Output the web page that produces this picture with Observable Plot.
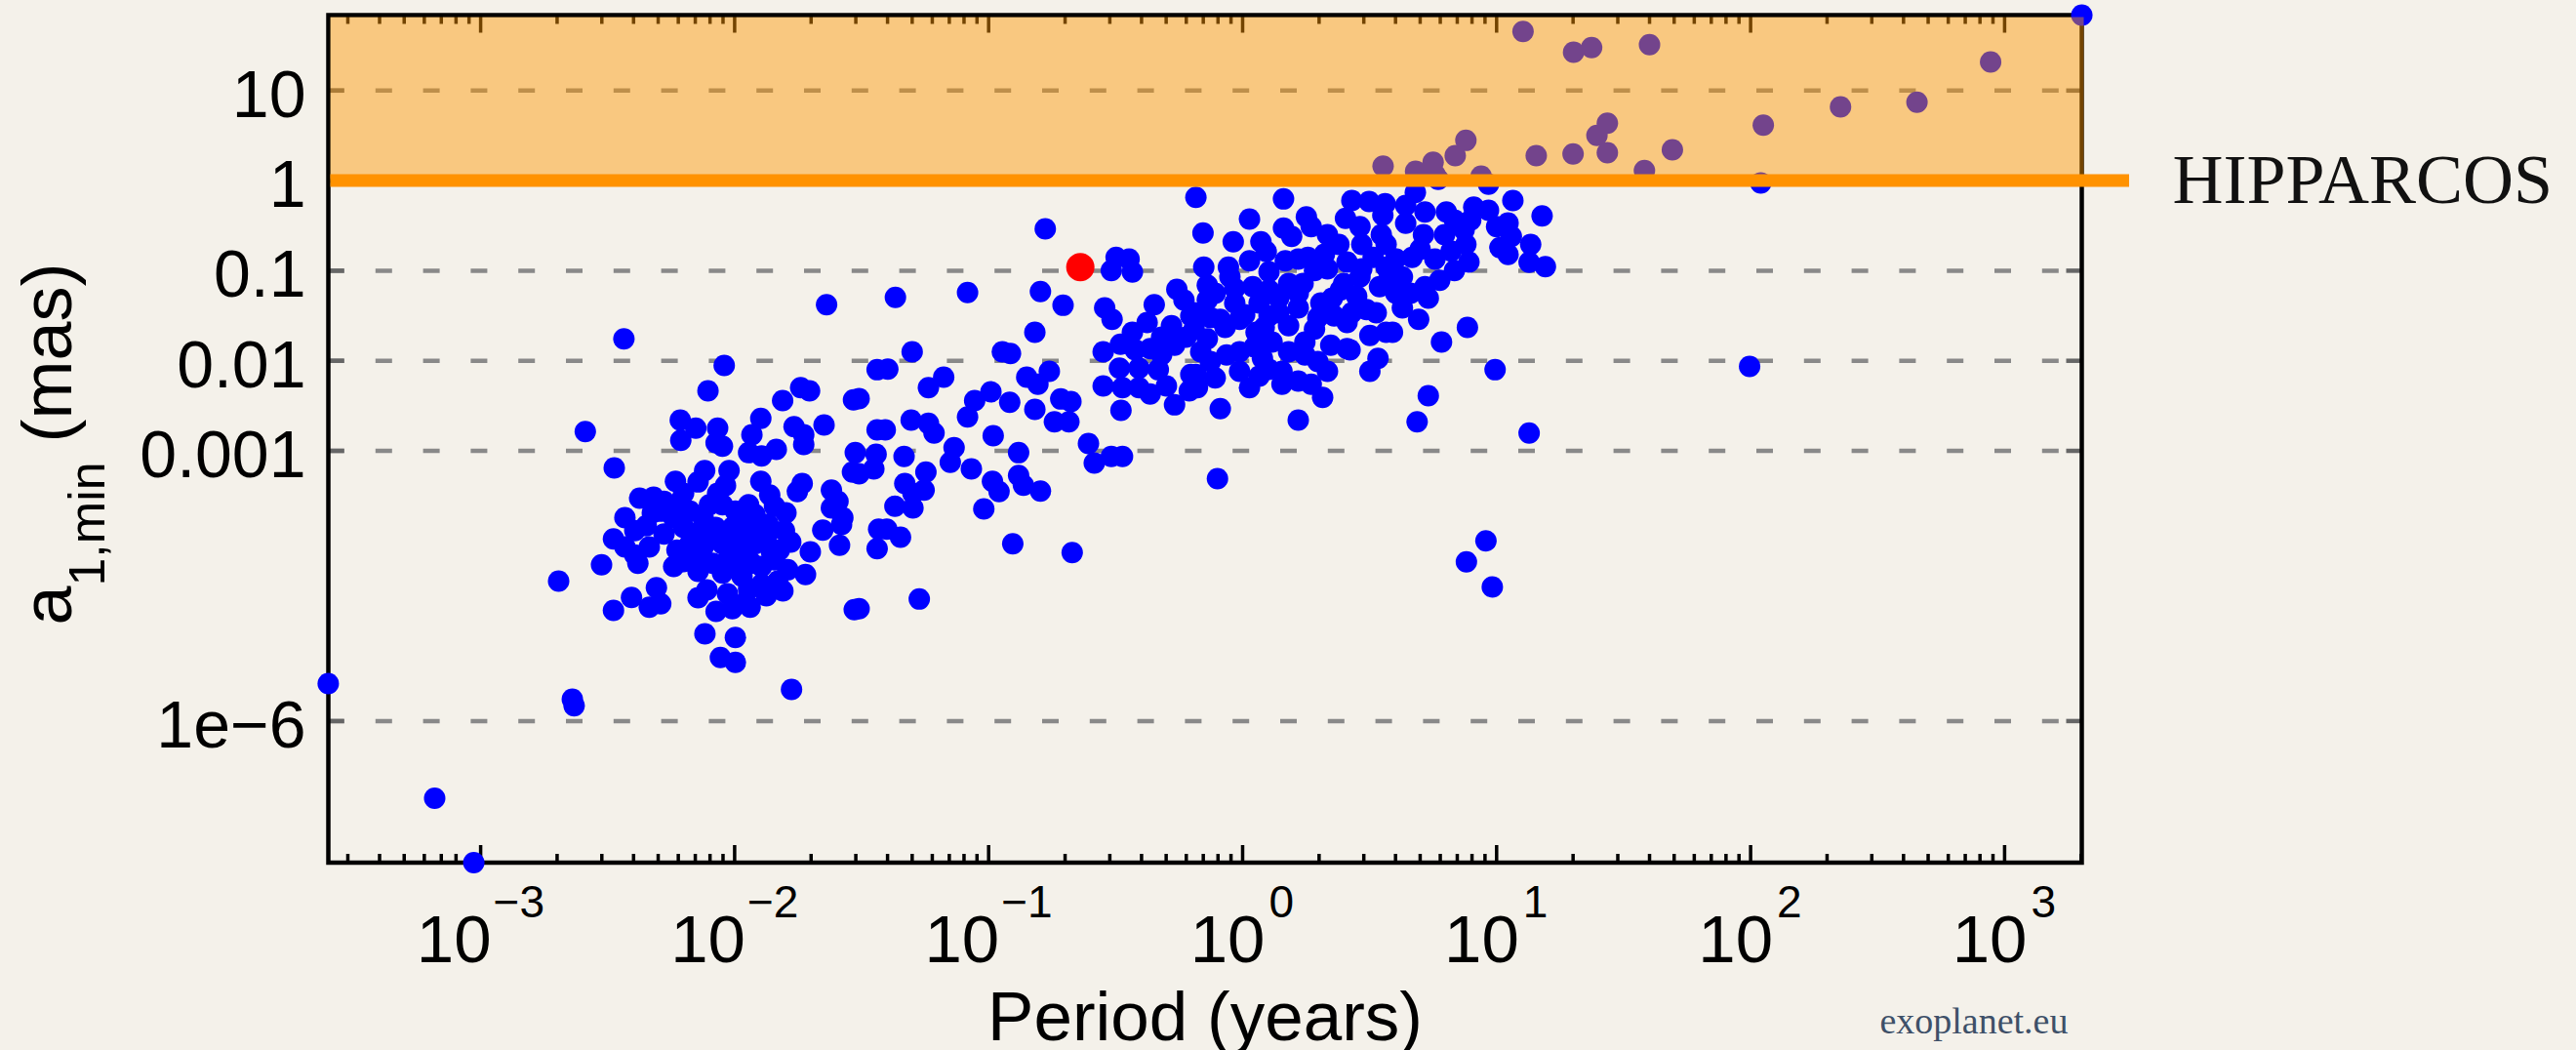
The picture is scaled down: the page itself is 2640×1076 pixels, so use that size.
<!DOCTYPE html>
<html>
<head>
<meta charset="utf-8">
<script src="https://cdn.jsdelivr.net/npm/d3@7"></script>
<script src="https://cdn.jsdelivr.net/npm/@observablehq/plot@0.6"></script>
<style>
  html, body { margin: 0; padding: 0; background: #f4f1ea; }
  #chart { position: relative; width: 2640px; height: 1076px; background: #f4f1ea; }
</style>
</head>
<body>
<div id="chart"></div>
<script>
// Axis extents: orbital period (years) and minimum astrometric signature a1,min (mas)
const periodExtent = [2.514e-4, 2013];
const aExtent = [2.68e-8, 68.8];

// HIPPARCOS astrometric precision threshold (mas)
const hipparcosLimit = 1;
const hipparcosName = "HIPPARCOS";

// Y ticks and their labels
const yTicks = [10, 1, 0.1, 0.01, 0.001, 1e-6];
const yTickLabels = ["10", "1", "0.1", "0.01", "0.001", "1e\u22126"];

// X ticks are powers of ten
const xTickExponents = [-3, -2, -1, 0, 1, 2, 3];

// Known planets: [log10 period (yr), log10 a1,min (mas)]
const planets = [
  // long-period / large-signature systems
  [1.104,1.657],[1.303,1.426],[1.374,1.477],[1.602,1.509],[0.553,0.161],[0.681,0.104],[0.750,0.205],[0.757,0.068],
  [0.837,0.277],[0.879,0.447],[0.939,0.050],[1.156,0.277],[1.301,0.296],[1.395,0.502],[1.436,0.638],[1.436,0.310],
  [1.582,0.112],[1.692,0.342],[2.050,0.616],[2.354,0.819],[2.655,0.870],[2.945,1.317],[3.304,1.8375],[2.040,-0.026],
  [1.996,-2.063],[0.770,0.014],[0.968,-0.040],
  // isolated systems
  [-3.600,-5.584],[-3.181,-6.857],[-3.027,-7.572],[-2.639,-5.757],[-2.632,-5.830],[-1.776,-5.649],[0.958,-3.999],
  [0.881,-4.233],[0.983,-4.511],
  // short-period group
  [-2.436,-1.756],[-2.041,-2.052],[-2.105,-2.334],[-1.740,-2.298],[-1.705,-2.334],[-1.811,-2.442],[-1.532,-2.434],
  [-2.588,-2.785],[-2.214,-2.659],[-2.153,-2.749],[-2.212,-2.883],[-2.067,-2.749],[-2.073,-2.911],[-2.048,-2.948],
  [-1.897,-2.640],[-1.932,-2.821],[-1.945,-3.020],[-1.894,-3.056],[-1.836,-2.984],[-1.766,-2.731],[-1.728,-2.821],
  [-1.728,-2.930],[-1.648,-2.713],[-1.525,-3.020],[-1.439,-2.767],[-1.536,-3.236],[-1.452,-3.200],[-2.474,-3.190],
  [-2.233,-3.338],[-2.118,-3.219],[-2.144,-3.345],[-2.022,-3.219],[-2.036,-3.385],[-1.897,-3.338],[-1.862,-3.490],
  [-1.843,-3.615],[-1.734,-3.363],[-1.753,-3.453],[-1.619,-3.436],[-1.593,-3.561],[-1.619,-3.634],[-1.574,-3.742],
  [-1.579,-3.818],[-1.653,-3.880],[-1.587,-4.049],[-1.433,-3.869],[-1.439,-4.086],[-2.319,-3.515],[-2.278,-3.561],
  [-2.214,-3.561],[-2.291,-3.670],[-2.176,-3.670],[-2.124,-3.742],[-2.099,-3.598],[-2.048,-3.598],[-1.997,-3.670],
  [-1.945,-3.598],[-1.920,-3.706],[-1.868,-3.815],[-1.804,-3.886],[-2.348,-3.832],[-2.393,-3.886],[-2.477,-3.977],
  [-2.432,-4.067],[-2.393,-4.157],[-2.381,-4.248],[-2.278,-3.923],[-2.227,-4.103],[-2.176,-4.031],[-2.150,-4.176],
  [-2.099,-3.923],[-2.048,-4.031],[-2.086,-4.248],[-2.022,-4.176],[-1.971,-4.103],[-1.920,-4.031],[-1.932,-4.248],
  [-1.984,-4.320],[-2.048,-4.356],[-1.824,-4.103],[-1.843,-4.211],[-1.791,-4.320],[-1.721,-4.374],[-1.830,-4.446],
  [-1.894,-4.482],[-1.945,-4.536],[-1.958,-4.681],[-1.939,-4.736],[-2.009,-4.753],[-2.073,-4.782],[-2.109,-4.544],
  [-2.524,-4.265],[-2.693,-4.446],[-2.406,-4.627],[-2.308,-4.519],[-2.291,-4.699],[-2.336,-4.736],[-2.477,-4.771],
  [-2.117,-5.031],[-1.997,-5.071],[-2.056,-5.295],[-1.997,-5.349],[-1.529,-4.764],[-1.638,-1.377],[-1.439,-2.099],
  [-2.240,-3.742],[-2.201,-3.850],[-2.144,-3.905],[-2.075,-3.850],[-2.009,-3.850],[-1.971,-3.905],[-1.875,-3.959],
  [-2.124,-4.067],[-2.201,-4.230],[-1.971,-4.392],[-1.894,-4.284],[-1.875,-4.609],[-2.028,-4.587],
  [-2.324,-3.688],[-2.247,-3.634],[-2.201,-3.471],[-2.067,-3.471],[-1.971,-3.742],[-2.028,-3.959],[-1.932,-3.905],
  [-1.855,-4.122],[-2.144,-4.338],[-2.240,-4.284],[-2.336,-4.067],[-2.432,-3.742],[-2.374,-3.526],[-1.798,-3.688],
  [-1.779,-4.013],[-1.702,-4.122],[-2.144,-4.631],[-1.810,-4.555],
  // intermediate periods
  [-0.777,-0.535],[-0.498,-0.853],[-0.447,-0.871],[-0.517,-0.998],[-0.434,-1.015],[-1.367,-1.297],[-1.083,-1.243],
  [-0.796,-1.232],[-0.707,-1.384],[-0.543,-1.413],[-0.514,-1.540],[-0.348,-1.377],[-0.259,-1.207],[-0.231,-1.326],
  [-0.204,-1.503],[-0.280,-1.611],[-0.268,-1.828],[-0.818,-1.684],[-1.301,-1.900],[-0.946,-1.900],[-0.914,-1.919],
  [-1.397,-2.092],[-1.177,-2.182],[-1.237,-2.298],[-0.850,-2.182],[-0.761,-2.117],[-0.806,-2.261],[-0.481,-1.817],
  [-0.423,-1.879],[-0.364,-1.865],[-0.485,-2.081],[-0.408,-2.081],[-0.332,-2.099],[-0.319,-1.933],[-0.204,-2.153],
  [-0.210,-2.334],[-0.473,-2.298],[-0.408,-2.298],[-0.364,-2.369],[-0.479,-2.550],[-0.268,-2.489],[-1.510,-2.420],
  [-1.055,-2.442],[-0.991,-2.344],[-0.917,-2.460],[-0.818,-2.540],[-0.716,-2.424],[-0.676,-2.453],[-0.741,-2.677],
  [-0.684,-2.677],[-1.083,-2.623],[-1.305,-2.659],[-1.237,-2.695],[-1.215,-2.803],[-1.407,-2.767],[-0.982,-2.832],
  [-1.136,-2.965],[-1.151,-3.128],[-0.882,-3.020],[-0.607,-2.919],[-0.584,-3.135],[-0.517,-3.063],[-0.473,-3.063],
  [-1.443,-3.038],[-1.333,-3.063],[-1.510,-3.255],[-1.247,-3.236],[-1.068,-3.200],[-1.330,-3.363],[-1.254,-3.436],
  [-1.298,-3.471],[-0.985,-3.338],[-0.959,-3.453],[-0.882,-3.273],[-0.863,-3.381],[-0.796,-3.446],[-1.369,-3.615],
  [-1.298,-3.634],[-1.019,-3.645],[-1.401,-3.869],[-1.347,-3.959],[-0.905,-4.031],[-0.671,-4.129],[-1.273,-4.645],
  [-1.510,-4.753],
  [-0.434,-1.684],[-0.376,-1.576],[-0.319,-1.738],[-0.549,-1.900],[-0.300,-2.279],[-0.549,-2.279],
  // periods around one to ten years
  [-0.184,-0.185],[0.161,-0.203],[0.027,-0.427],[-0.156,-0.582],[-0.037,-0.679],[0.072,-0.679],[0.093,-0.788],
  [0.161,-0.528],[0.251,-0.402],[0.270,-0.510],[0.193,-0.619],[0.430,-0.221],[0.498,-0.232],[0.561,-0.257],
  [0.405,-0.419],[0.462,-0.510],[0.552,-0.384],[0.546,-0.600],[0.642,-0.275],[0.680,-0.131],[0.642,-0.473],
  [0.718,-0.348],[0.712,-0.600],[0.802,-0.348],[0.834,-0.438],[0.910,-0.294],[0.898,-0.438],[1.064,-0.221],
  [1.179,-0.391],[1.000,-0.510],[1.045,-0.470],[1.058,-0.619],[1.013,-0.744],[1.134,-0.709],[1.128,-0.907],
  [1.192,-0.955],[0.879,-0.709],[0.821,-0.781],[0.834,-0.998],[0.776,-1.106],[0.718,-1.178],[0.731,-1.304],
  [0.629,-1.413],[0.693,-1.540],[0.629,-1.069],[0.667,-0.853],[0.565,-0.709],[0.514,-0.853],[0.565,-0.961],
  [0.539,-1.178],[0.462,-1.069],[0.398,-1.142],[0.379,-0.709],[0.322,-0.817],[0.257,-0.853],[0.168,-0.889],
  [0.027,-0.889],[-0.056,-0.961],[-0.153,-0.961],[-0.050,-1.069],[-0.139,-1.160],[-0.139,-1.323],[-0.191,-1.467],
  [-0.031,-1.359],[0.040,-1.178],[0.104,-1.215],[0.181,-1.142],[0.219,-1.250],[0.283,-0.998],[0.308,-1.359],
  [0.385,-1.215],[0.449,-1.283],[0.488,-1.431],[0.565,-1.684],[0.501,-1.719],[0.411,-1.865],[0.347,-1.828],
  [0.360,-1.503],[0.283,-1.648],[0.245,-1.792],[0.181,-1.611],[0.104,-1.503],[0.116,-1.792],[0.053,-1.684],
  [-0.012,-1.540],[-0.088,-1.540],[-0.139,-1.756],[-0.191,-1.648],[-0.063,-1.936],[-0.127,-2.009],[-0.184,-2.153],
  [-0.108,-2.190],[-0.012,-2.117],[0.027,-2.298],[0.078,-1.973],[0.155,-2.117],[0.155,-2.261],[0.245,-1.936],
  [0.296,-2.009],[0.334,-2.117],[0.270,-2.261],[0.315,-2.406],[0.423,-1.879],[0.533,-1.973],[0.501,-2.117],
  [0.590,-1.684],[0.783,-1.792],[0.885,-1.629],[0.994,-2.099],[0.731,-2.388],[0.687,-2.677],[1.128,-2.803],
  [0.219,-2.659],[-0.088,-2.532],[-0.178,-2.298],[-0.099,-3.309],[0.065,-1.359],[0.142,-1.467],[0.219,-1.413],
  [0.046,-1.846],[-0.012,-1.900],[0.181,-1.900],[0.104,-2.095],[0.411,-1.575],[0.603,-1.251],[0.469,-0.709],
  [0.603,-0.869],[0.334,-0.600],[0.795,-0.600],[0.891,-0.904],
  [-0.108,-1.250],[-0.069,-1.629],[0.008,-1.489],[0.085,-1.629],[0.142,-1.304],[0.238,-1.142],[0.296,-1.521],
  [0.353,-1.304],[0.430,-1.467],[0.469,-0.980],[0.526,-1.467],[0.661,-1.251],[0.565,-1.142],[0.334,-0.980],
  [0.219,-0.871],[0.104,-1.012],[-0.031,-1.196],[-0.127,-1.521],[0.065,-2.171],[0.219,-2.225],[0.699,-0.763],
  [0.757,-0.871],[0.872,-0.546],[0.968,-0.329],[1.045,-0.819],[0.411,-0.904],[-0.223,-1.738],[-0.165,-1.900]
];

// Highlighted planet: [log10 period (yr), log10 a1,min (mas)]
const highlighted = [[-0.639, -0.961]];

const toPoint = ([logP, logA]) => ({period: 10 ** logP, a: 10 ** logA});
const planetData = planets.map(toPoint);
const highlightData = highlighted.map(toPoint);

// Log-decade tick positions along the period axis
const xMajorTicks = xTickExponents.map((e) => 10 ** e);
const xMinorTicks = [];
for (let e = -4; e <= 3; e++) {
  for (let k = 2; k <= 9; k++) {
    const v = k * 10 ** e;
    if (v >= periodExtent[0] && v <= periodExtent[1]) xMinorTicks.push(v);
  }
}

// A plain straight tick drawn by the vector mark
const tickLine = {draw(context, l) { context.moveTo(0, 0); context.lineTo(0, -l); }};
const tickStyle = {anchor: "start", shape: tickLine, fill: "none", stroke: "black", strokeWidth: 3.5, strokeLinecap: "butt"};

const sans = "'Liberation Sans', Arial, Helvetica, sans-serif";
const serif = "'Liberation Serif', 'Times New Roman', serif";

const negExp = xTickExponents.filter((e) => e < 0);
const posExp = xTickExponents.filter((e) => e >= 0);
const expText = (e) => (e < 0 ? "\u2212" + (-e) : String(e));
const tickBase = (exps, dx) => Plot.text(exps, {
  x: (e) => 10 ** e, text: () => "10", frameAnchor: "bottom", lineAnchor: "bottom",
  textAnchor: "end", dx, dy: 101.5, fontSize: 69, fill: "black"
});
const tickPower = (exps, dx) => Plot.text(exps, {
  x: (e) => 10 ** e, text: expText, frameAnchor: "bottom", lineAnchor: "bottom",
  textAnchor: "start", dx, dy: 56, fontSize: 46, fill: "black"
});

const chart = Plot.plot({
  width: 2640,
  height: 1076,
  marginLeft: 336,
  marginRight: 507,
  marginTop: 15,
  marginBottom: 192.5,
  x: {type: "log", domain: periodExtent, axis: null},
  y: {type: "log", domain: aExtent, axis: null},
  style: {background: "transparent", fontFamily: sans, color: "black", overflow: "visible"},
  marks: [
    // dashed horizontal grid
    Plot.ruleY(yTicks, {y: (d) => d, stroke: "#898989", strokeWidth: 4.5, strokeDasharray: "17 31.8"}),
    // y ticks on both sides
    Plot.vector(yTicks, {y: (d) => d, frameAnchor: "left", rotate: 90, length: 16, ...tickStyle, stroke: "#666", strokeWidth: 4.5}),
    Plot.vector(yTicks, {y: (d) => d, frameAnchor: "right", rotate: -90, length: 16, ...tickStyle, stroke: "#666", strokeWidth: 4.5}),
    // x ticks, bottom and top, pointing inwards
    Plot.vector(xMajorTicks, {x: (d) => d, frameAnchor: "bottom", rotate: 0, length: 18, ...tickStyle}),
    Plot.vector(xMinorTicks, {x: (d) => d, frameAnchor: "bottom", rotate: 0, length: 9, ...tickStyle}),
    Plot.vector(xMajorTicks, {x: (d) => d, frameAnchor: "top", rotate: 180, length: 18, ...tickStyle}),
    Plot.vector(xMinorTicks, {x: (d) => d, frameAnchor: "top", rotate: 180, length: 9, ...tickStyle}),
    Plot.frame({stroke: "black", strokeWidth: 4.5}),
    // planets
    Plot.dot(planetData, {x: "period", y: "a", r: 11, fill: "#0000ff"}),
    Plot.dot(highlightData, {x: "period", y: "a", r: 14.5, fill: "#ff0000"}),
    // region above the HIPPARCOS limit
    Plot.rect([hipparcosLimit], {
      x1: periodExtent[0], x2: periodExtent[1], y1: (d) => d, y2: aExtent[1],
      fill: "#ff9600", fillOpacity: 0.45, insetTop: 2.5, insetLeft: 2.5, insetRight: -2.5
    }),
    Plot.ruleY([hipparcosLimit], {y: (d) => d, stroke: "#ff9200", strokeWidth: 13, insetLeft: 2.5, insetRight: -49}),
    Plot.text([hipparcosLimit], {
      y: (d) => d, text: () => hipparcosName, frameAnchor: "right", textAnchor: "start",
      lineAnchor: "middle", dx: 93, fontSize: 72, fontFamily: serif, fill: "#111"
    }),
    // tick labels
    Plot.text(yTicks, {
      y: (d) => d, text: (d, i) => yTickLabels[i], frameAnchor: "left", textAnchor: "end",
      lineAnchor: "bottom", dx: -23, dy: 26.8, fontSize: 68, fill: "black"
    }),
    tickBase(negExp, 11),
    tickPower(negExp, 13),
    tickBase(posExp, 23),
    tickPower(posExp, 27),
    // axis title and source
    Plot.text(["Period (years)"], {
      text: (d) => d, frameAnchor: "bottom", lineAnchor: "bottom", dy: 182, fontSize: 71, fill: "black"
    }),
    Plot.text(["exoplanet.eu"], {
      text: (d) => d, frameAnchor: "bottom-right", textAnchor: "end", lineAnchor: "bottom",
      dx: -14, dy: 174.5, fontSize: 38, fontFamily: serif, fill: "#3e5068"
    })
  ]
});

document.getElementById("chart").appendChild(chart);

// Rotated y-axis title with a subscript, centred on the plot's height
const svg = d3.select(chart);
const yTitle = svg.append("text")
  .attr("transform", "translate(73,455) rotate(-90)")
  .attr("text-anchor", "middle")
  .attr("font-family", sans)
  .attr("font-size", 72)
  .attr("fill", "black");
yTitle.append("tspan").text("a");
yTitle.append("tspan").attr("font-size", 52).attr("dy", 34).text("1,min");
yTitle.append("tspan").attr("dy", -34).text(" (mas)");
</script>
</body>
</html>
